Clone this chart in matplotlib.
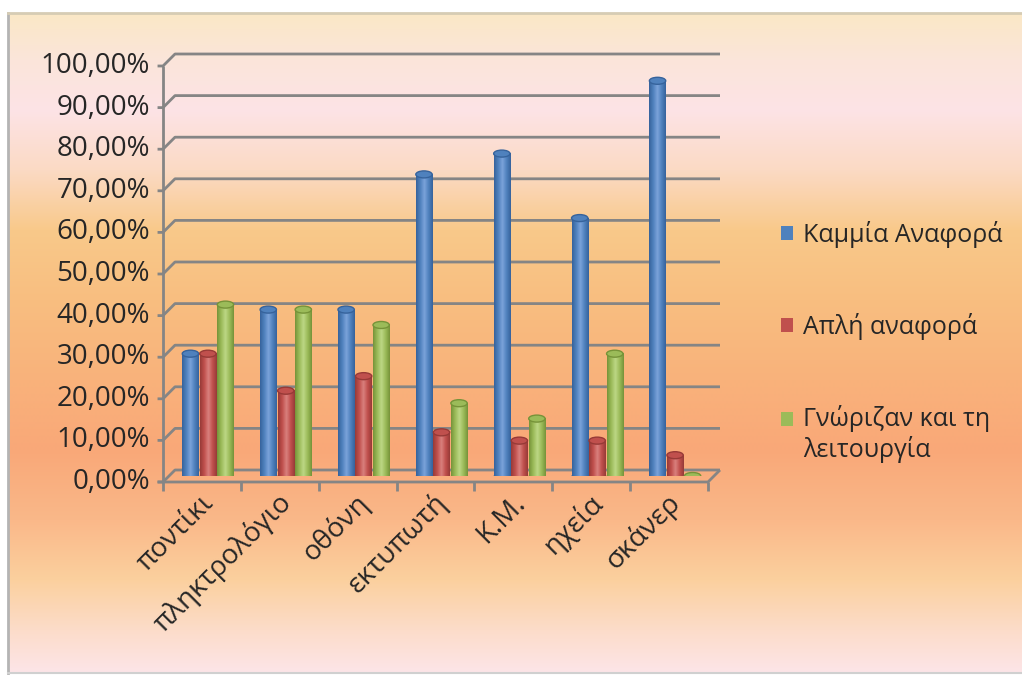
import numpy as np
import matplotlib
matplotlib.use("Agg")
import matplotlib.pyplot as plt
from matplotlib.colors import LinearSegmentedColormap, to_rgb
from matplotlib.patches import Ellipse, Rectangle

plt.rcParams['font.family'] = ['Open Sans', 'DejaVu Sans']

# data (percent)
categories = ['ποντίκι', 'πληκτρολόγιο', 'οθόνη', 'εκτυπωτή', 'Κ.Μ.', 'ηχεία', 'σκάνερ']
kammia = [29.4, 40.0, 40.0, 72.5, 77.5, 62.0, 95.0]
apli = [29.4, 20.5, 24.0, 10.5, 8.5, 8.5, 5.0]
gnorizan = [41.2, 40.0, 36.3, 17.5, 13.8, 29.4, 0.0]
series_names = ['Καμμία Αναφορά', 'Απλή αναφορά', 'Γνώριζαν και τη\nλειτουργία']
yticks = list(range(0, 101, 10))

# colours: (edge/dark, base, highlight)
shades = [('#36639c', '#4f81bd', '#7ba3da'),
          ('#973a37', '#c0504d', '#d9807d'),
          ('#769339', '#9bbb59', '#bcd785')]
grid_col = '#858585'
text_col = '#262626'

W, H = 1022, 675
fig = plt.figure(figsize=(W / 100, H / 100), dpi=100)

# ---- background gradient in pixel coords
bg = fig.add_axes([0, 0, 1, 1], zorder=-10)
bg.set_xlim(0, W)
bg.set_ylim(H, 0)
bg.set_axis_off()
stops_y = [13, 60, 110, 170, 230, 300, 380, 450, 520, 580, 630, 673]
stops_c = ['#fae8c6', '#fbe5da', '#fde3e6', '#fbdac4', '#f9c98a', '#f8be80',
           '#f9b27b', '#f9a878', '#fab889', '#fbd09e', '#fcdcc9', '#fde5e8']
rows = np.arange(13, 674)
rgb = np.array([to_rgb(c) for c in stops_c])
grad = np.stack([np.interp(rows, stops_y, rgb[:, k]) for k in range(3)], axis=1)
grad = np.repeat(grad[:, None, :], 2, axis=1)
bg.imshow(grad, extent=(8, W, 673, 13), aspect='auto', interpolation='bilinear')
bg.plot([8, 8], [13, 673], color='#b4b4b4', lw=2)
bg.plot([8, W], [13, 13], color='#d6ccb4', lw=2)
bg.plot([8, W], [673, 673], color='#d0d0d0', lw=1.5)

# ---- main axes: mid-depth plane of the 3D box
ax_px = (169, 476, 545, 416)  # left, baseline, width, height in pixels
ax = fig.add_axes([ax_px[0] / W, (H - ax_px[1]) / H, ax_px[2] / W, ax_px[3] / H])
n = len(categories)
ax.set_axis_off()

depth = 6  # px from mid plane to back/front
dx = depth * n / ax_px[2]
dy = depth * 100 / ax_px[3]

lk = dict(color=grid_col, lw=2, clip_on=False, solid_capstyle='butt', zorder=1)
for v in yticks:
    # back wall gridline + diagonal to front axis + tick
    ax.plot([-dx - 0.07, -dx, dx, n + dx], [v - dy, v - dy, v + dy, v + dy], **lk)
    lab = f'{v:.2f}%'.replace('.', ',')
    ax.text(-dx - 0.17, v - dy, lab, ha='right', va='center', fontsize=20, color=text_col)
# front axis and floor
ax.plot([-dx, -dx], [-dy, 100 - dy], **lk)
ax.plot([-dx - 0.07, n - dx, n + dx], [-dy, -dy, dy], **lk)
for k in range(n + 1):
    ax.plot([k - dx, k - dx], [-dy, -dy - 2.2], **lk)

# ---- cylinder bars
bw = 0.21
step = 0.225
eh = 7 * 100 / ax_px[3]
for j, vals in enumerate([kammia, apli, gnorizan]):
    dark, base, light = shades[j]
    cmap = LinearSegmentedColormap.from_list(
        f's{j}', [dark, base, light, base, dark], N=64)
    row = np.linspace(0, 1, 64)[None, :]
    for i, v in enumerate(vals):
        xc = i + 0.5 + (j - 1) * step
        z = 3 + j
        ax.add_patch(Ellipse((xc, 0), bw, eh, facecolor=dark, edgecolor='none', zorder=z))
        if v > 0:
            ax.imshow(row, extent=(xc - bw / 2, xc + bw / 2, 0, v), aspect='auto',
                      cmap=cmap, interpolation='bilinear', zorder=z)
        ax.add_patch(Ellipse((xc, v), bw, eh, facecolor=base, edgecolor=dark,
                             lw=1, zorder=z + 0.5))

ax.set_xlim(0, n)
ax.set_ylim(0, 100)

# category labels
for i, c in enumerate(categories):
    ax.text(i + 0.5 - dx + 0.1, -dy - 4.0, c, rotation=45, ha='right', va='center',
            rotation_mode='anchor', fontsize=20, color=text_col)

# legend
handles = [Rectangle((0, 0), 1, 1, facecolor=s[1], edgecolor='none') for s in shades]
leg = fig.legend(handles, series_names, loc='upper left',
                 bbox_to_anchor=(758 / W, 1 - 198 / H),
                 frameon=False, fontsize=18, handlelength=0.5, handleheight=0.5,
                 handletextpad=0.4, labelspacing=2.6, labelcolor=text_col)
# put the square of the two-line entry next to its first line
h3 = leg.legend_handles[2]
h3.set_y(h3.get_y() + 11)

fig.savefig('out.png', dpi=100)
